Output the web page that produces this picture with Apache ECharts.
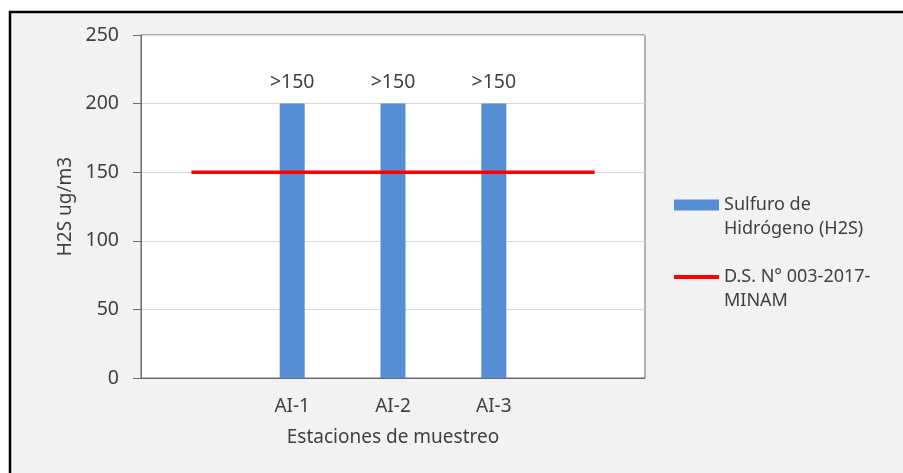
<!DOCTYPE html>
<html><head><meta charset="utf-8">
<script src="https://cdn.jsdelivr.net/npm/echarts@6/dist/echarts.min.js"></script>
<style>html,body{margin:0;padding:0;background:#fff}#c{width:903px;height:473px}</style>
</head><body><div id="c"></div>
<script>
const categories = ['', 'AI-1', 'AI-2', 'AI-3', ''];
const h2sValues = ['-', 200, 200, 200, '-'];
const h2sLabels = ['', '>150', '>150', '>150', ''];
const standardValues = [150, 150, 150, 150, 150];
const yTicks = [0, 50, 100, 150, 200, 250];
const seriesNames = ['Sulfuro de Hidrógeno (H2S)', 'D.S. N° 003-2017-MINAM'];
const legendLabels = {'Sulfuro de Hidrógeno (H2S)': '\nSulfuro de\nHidrógeno (H2S)', 'D.S. N° 003-2017-MINAM': '\nD.S. N° 003-2017-\nMINAM'};

const FONT = 'Noto Sans';
const TXT = '#404040';
const chart = echarts.init(document.getElementById('c'));
chart.setOption({
  animation: false,
  textStyle: {fontFamily: FONT},
  graphic: [{type: 'rect', z: -10, shape: {x: 10, y: 12, width: 1200, height: 1000}, style: {fill: '#f2f2f2', stroke: '#000', lineWidth: 2.5}}],
  grid: {left: 141, right: 258, top: 35, bottom: 95, show: true, backgroundColor: '#fff', borderColor: '#6a6a6a', borderWidth: 1},
  legend: {
    orient: 'vertical', left: 669, top: 164, itemWidth: 45, itemHeight: 11, itemGap: 0,
    data: [
      {name: seriesNames[0], icon: 'rect'},
      {name: seriesNames[1], icon: 'path://M0,0H45V4H0Z'}
    ],
    formatter: n => legendLabels[n],
    textStyle: {fontFamily: FONT, fontSize: 18, color: TXT, lineHeight: 24}
  },
  xAxis: {
    type: 'category', data: categories,
    axisLine: {lineStyle: {color: '#6a6a6a'}}, axisTick: {show: false},
    axisLabel: {fontSize: 19, color: TXT, margin: 19},
    name: 'Estaciones de muestreo', nameLocation: 'middle', nameGap: 50,
    nameTextStyle: {fontSize: 19, color: TXT}
  },
  yAxis: {
    type: 'value', min: yTicks[0], max: yTicks[yTicks.length - 1], interval: yTicks[1] - yTicks[0],
    axisLine: {show: true, lineStyle: {color: '#6a6a6a'}},
    axisTick: {show: true, length: 8, lineStyle: {color: '#6a6a6a'}},
    splitLine: {lineStyle: {color: '#d9d9d9'}},
    axisLabel: {fontSize: 19.5, color: TXT, margin: 22},
    name: 'H2S ug/m3', nameLocation: 'middle', nameGap: 64,
    nameTextStyle: {fontSize: 19, color: TXT}
  },
  series: [
    {name: seriesNames[0], type: 'bar', data: h2sValues, barWidth: 25, itemStyle: {color: '#558ed5'},
     label: {show: true, position: 'top', distance: 11, fontSize: 19.5, color: TXT, formatter: p => h2sLabels[p.dataIndex]}},
    {name: seriesNames[1], type: 'line', data: standardValues, symbol: 'none', lineStyle: {color: '#ff0000', width: 3.5}, itemStyle: {color: '#ff0000'}, z: 5}
  ]
});
</script></body></html>
